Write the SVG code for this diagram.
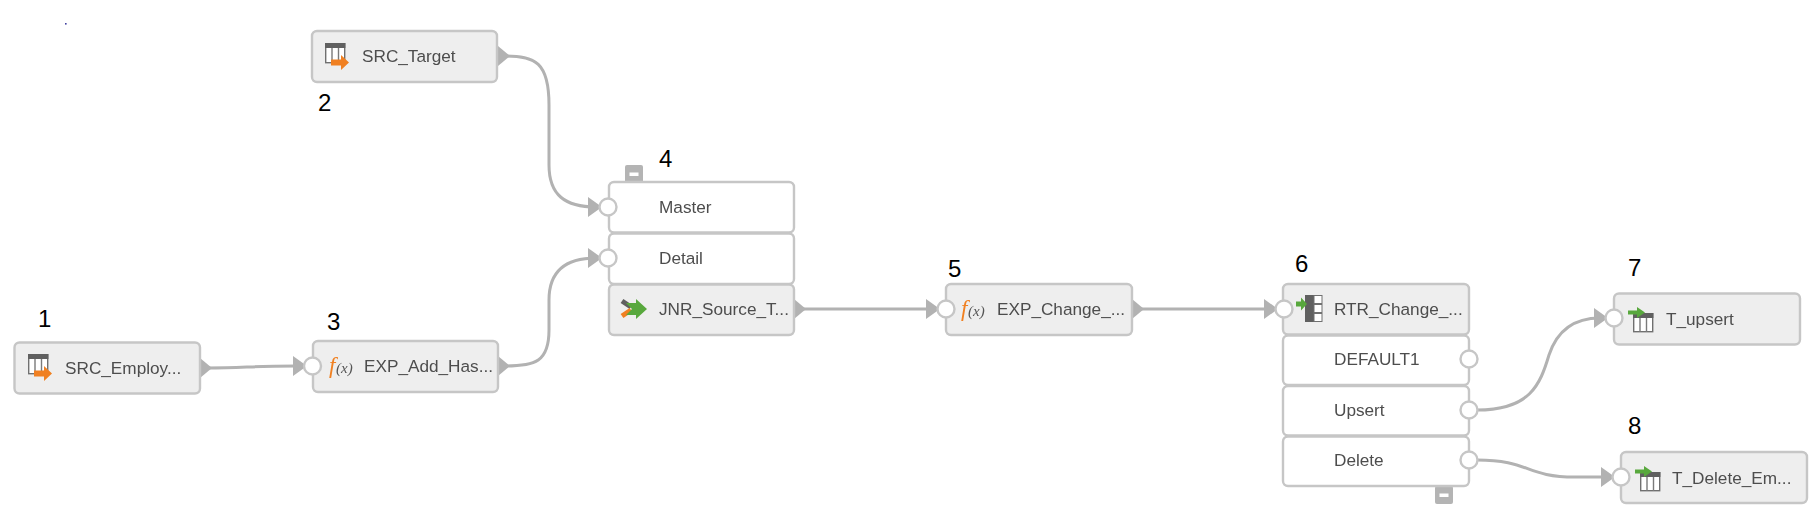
<svg xmlns="http://www.w3.org/2000/svg" width="1816" height="529" viewBox="0 0 1816 529">
<style>
.box{fill:#eeeeee;stroke:#c6c6c6;stroke-width:2.4}
.port{fill:#ffffff;stroke:#c6c6c6;stroke-width:2.4}
.white{fill:#ffffff;stroke:#c6c6c6;stroke-width:2.4}
.lbl{font-family:"Liberation Sans",Arial,sans-serif;font-size:17.200px;fill:#4d4d4d}
.num{font-family:"Liberation Sans",Arial,sans-serif;font-size:24px;fill:#000000}
.fx{font-family:"Liberation Serif","Times New Roman",serif;font-style:italic}
.conn{fill:none;stroke:#b2b2b2;stroke-width:3}
.tri{fill:#b2b2b2}
.org{fill:#f08020}
.grn{fill:#58a83c}
.dk{fill:#606060}
.cols{fill:none;stroke:#7a7a7a;stroke-width:1.4}
.cell{fill:#ffffff;stroke:#707070;stroke-width:1}
</style>
<defs>
<filter id="soft" x="-5%" y="-5%" width="110%" height="110%"><feGaussianBlur stdDeviation="0.55"/></filter>
<g id="srcIcon">
<rect x="0.7" y="0.7" width="19" height="19" fill="#ffffff" stroke="#707070" stroke-width="1.4"/>
<rect x="0" y="0" width="20.4" height="5" class="dk"/>
<path d="M7 5V19M13.500 5V19" class="cols"/>
<path d="M6 16.500h10v-4.500l8 7.500-8 7.500v-4.500H6z" class="org"/>
</g>
<g id="tgtIcon">
<rect x="5.700" y="6.700" width="19" height="18" fill="#ffffff" stroke="#707070" stroke-width="1.4"/>
<rect x="5" y="6" width="20.400" height="5" class="dk"/>
<path d="M12 11V25M18.500 11V25" class="cols"/>
<path d="M0 3.500h9V0l8 5.500-8 5.500V7.500H0z" class="grn"/>
</g>
<g id="fxIcon">
<text x="0" y="0" class="fx" font-size="23" fill="#f08020">f</text>
<text x="7" y="0" class="fx" font-size="15" fill="#555555">(x)</text>
</g>
<g id="collapse">
<rect x="0" y="0" width="18" height="18" rx="2" fill="#b4b4b4"/>
<rect x="4.500" y="7.500" width="9" height="3.500" fill="#ffffff"/>
</g>
</defs>

<rect x="65" y="23" width="1.600" height="1.600" fill="#4040a0"/>

<g id="connectors" filter="url(#soft)">
<path class="conn" d="M505 56C535 56 549 62 549 105V165C549 195 565 207 596 207"/>
<path class="conn" d="M505 366C535 366 549 362 549 330V300C549 272 565 258 596 258"/>
<path class="conn" d="M207 368C245 368 250 366 296 366"/>
<path class="conn" d="M802 309H932"/>
<path class="conn" d="M1139 309H1270"/>
<path class="conn" d="M1477 410C1530 410 1540 385 1549 355C1559 325 1580 318 1600 318"/>
<path class="conn" d="M1477 460C1530 460 1525 477 1575 477H1606"/>
<path class="tri" d="M498 46L510 56L498 66z"/>
<path class="tri" d="M200 358L212 368L200 378z"/>
<path class="tri" d="M498 356L510 366L498 376z"/>
<path class="tri" d="M794 299L806 309L794 319z"/>
<path class="tri" d="M1132 299L1144 309L1132 319z"/>
<path class="tri" d="M293 356L307 366L293 376z"/>
<path class="tri" d="M588 197L602 207L588 217z"/>
<path class="tri" d="M588 248L602 258L588 268z"/>
<path class="tri" d="M926 299L940 309L926 319z"/>
<path class="tri" d="M1264 299L1278 309L1264 319z"/>
<path class="tri" d="M1594 308L1608 318L1594 328z"/>
<path class="tri" d="M1601 467L1615 477L1601 487z"/>
</g>

<g id="node-src-target" filter="url(#soft)">
<rect class="box" x="312" y="31" width="185" height="51" rx="5"/>
<use href="#srcIcon" x="325" y="43"/>
<text class="lbl" x="362" y="62">SRC_Target</text>
</g>
<g id="node-src-employ" filter="url(#soft)">
<rect class="box" x="14.500" y="342.500" width="185.500" height="51" rx="5"/>
<use href="#srcIcon" x="28" y="354"/>
<text class="lbl" x="65" y="374">SRC_Employ...</text>
</g>
<g id="node-exp-add" filter="url(#soft)">
<rect class="box" x="313" y="341" width="185" height="51" rx="5"/>
<circle class="port" cx="312.500" cy="366" r="8.500"/>
<use href="#fxIcon" x="329" y="373"/>
<text class="lbl" x="364" y="372">EXP_Add_Has...</text>
</g>
<g id="node-joiner" filter="url(#soft)">
<use href="#collapse" x="625" y="165"/>
<rect class="white" x="609" y="182" width="185" height="50.500" rx="5"/>
<rect class="white" x="609" y="233.500" width="185" height="50.500" rx="5"/>
<rect class="box" x="609" y="284.500" width="185" height="50.500" rx="5"/>
<circle class="port" cx="608" cy="207" r="8.500"/>
<circle class="port" cx="608" cy="258" r="8.500"/>
<text class="lbl" x="659" y="213">Master</text>
<text class="lbl" x="659" y="264">Detail</text>
<path d="M622 301L631 307" stroke="#606060" stroke-width="5" fill="none"/>
<path d="M622 316L631 310" stroke="#f08020" stroke-width="5" fill="none"/>
<path d="M626 303H636V299L647 309L636 319V315H626L632 309z" class="grn"/>
<text class="lbl" x="659" y="315">JNR_Source_T...</text>
</g>
<g id="node-exp-change" filter="url(#soft)">
<rect class="box" x="946" y="284" width="186" height="51" rx="5"/>
<circle class="port" cx="946" cy="309" r="8.500"/>
<use href="#fxIcon" x="961" y="316"/>
<text class="lbl" x="997" y="315">EXP_Change_...</text>
</g>
<g id="node-router" filter="url(#soft)">
<use href="#collapse" x="1435" y="486"/>
<rect class="box" x="1283" y="284" width="186" height="50.500" rx="5"/>
<rect class="white" x="1283" y="335.500" width="186" height="49.500" rx="5"/>
<rect class="white" x="1283" y="386" width="186" height="49.500" rx="5"/>
<rect class="white" x="1283" y="436.500" width="186" height="49.500" rx="5"/>
<circle class="port" cx="1284" cy="309" r="8.500"/>
<circle class="port" cx="1469" cy="359" r="8.500"/>
<circle class="port" cx="1469" cy="410" r="8.500"/>
<circle class="port" cx="1469" cy="460" r="8.500"/>
<rect x="1305" y="295" width="9" height="27" class="dk"/>
<rect class="cell" x="1314" y="295.500" width="8" height="8"/>
<rect class="cell" x="1314" y="304.500" width="8" height="8"/>
<rect class="cell" x="1314" y="313.500" width="8" height="8"/>
<path d="M1296 301.500h5v-4l6 6.500-6 6.500v-4h-5z" class="grn"/>
<text class="lbl" x="1334" y="315">RTR_Change_...</text>
<text class="lbl" x="1334" y="365">DEFAULT1</text>
<text class="lbl" x="1334" y="416">Upsert</text>
<text class="lbl" x="1334" y="466">Delete</text>
</g>
<g id="node-t-upsert" filter="url(#soft)">
<rect class="box" x="1614" y="293.500" width="186" height="51" rx="5"/>
<circle class="port" cx="1614" cy="318" r="8.500"/>
<use href="#tgtIcon" x="1628" y="307"/>
<text class="lbl" x="1666" y="325">T_upsert</text>
</g>
<g id="node-t-delete" filter="url(#soft)">
<rect class="box" x="1621" y="452" width="186" height="51" rx="5"/>
<circle class="port" cx="1621" cy="477" r="8.500"/>
<use href="#tgtIcon" x="1635" y="466"/>
<text class="lbl" x="1672" y="484">T_Delete_Em...</text>
</g>

<g id="numbers">
<text class="num" x="38" y="327">1</text>
<text class="num" x="318" y="111">2</text>
<text class="num" x="327" y="330">3</text>
<text class="num" x="659" y="167">4</text>
<text class="num" x="948" y="277">5</text>
<text class="num" x="1295" y="272">6</text>
<text class="num" x="1628" y="276">7</text>
<text class="num" x="1628" y="434">8</text>
</g>
</svg>
